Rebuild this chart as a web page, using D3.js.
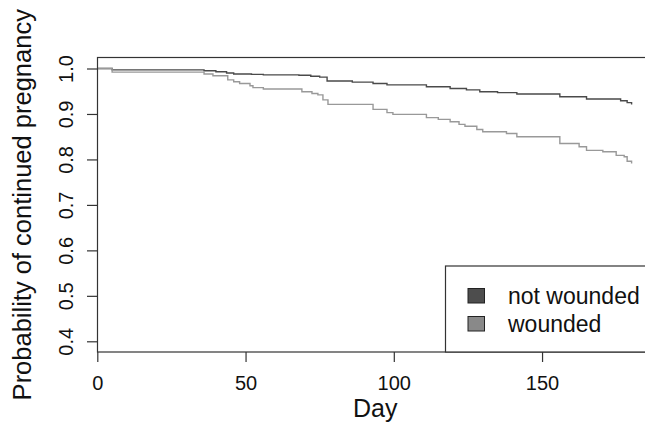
<!DOCTYPE html>
<html>
<head>
<meta charset="utf-8">
<script src="https://cdn.jsdelivr.net/npm/d3@7/dist/d3.min.js"></script>
<style>
html,body{margin:0;padding:0;background:#fff;}
svg{display:block;}
text{font-family:"Liberation Sans",Arial,Helvetica,sans-serif;fill:#111;}
</style>
</head>
<body>
<svg id="chart" width="645" height="426"></svg>
<script>
// Kaplan-Meier step data: [day, probability]
const notWoundedTimes = [0, 5, 36, 40, 43.6, 46, 52, 56, 68, 72, 75, 77.5, 86, 93, 97.7, 111, 119, 124.5, 129, 135, 141.5, 156, 165, 176.5, 178.7, 180.2];
const notWoundedSurv  = [1.0, 0.997, 0.995, 0.993, 0.990, 0.988, 0.987, 0.986, 0.985, 0.983, 0.981, 0.9725, 0.970, 0.967, 0.964, 0.960, 0.956, 0.953, 0.949, 0.947, 0.944, 0.938, 0.933, 0.929, 0.925, 0.921];
const woundedTimes = [0, 5, 36, 39, 44, 46, 48, 51.5, 52.5, 56, 69, 72.4, 74.4, 76.1, 77.8, 93, 97.7, 99.7, 111, 115, 119, 122, 124, 128, 130, 138, 141.5, 156, 162.5, 165, 170.5, 175, 177.7, 178.7, 180.2];
const woundedSurv  = [1.0, 0.992, 0.988, 0.984, 0.975, 0.971, 0.967, 0.962, 0.958, 0.955, 0.949, 0.945, 0.942, 0.931, 0.921, 0.910, 0.903, 0.899, 0.892, 0.888, 0.883, 0.877, 0.873, 0.866, 0.861, 0.857, 0.850, 0.835, 0.828, 0.820, 0.817, 0.809, 0.806, 0.796, 0.791];
const groups = ["not wounded", "wounded"];
const xTicks = [0, 50, 100, 150];
const yTicks = [0.4, 0.5, 0.6, 0.7, 0.8, 0.9, 1.0];
const xTitle = "Day";
const yTitle = "Probability of continued pregnancy";

const svg = d3.select("#chart");
const box = {left: 97.5, right: 653, top: 57.5, bottom: 352};

const x = d3.scaleLinear().domain([0, (box.right - 97.3) / 2.965]).range([97.3, box.right]);
const y = d3.scaleLinear().domain([0.4, 1.0]).range([341.3, 68.5]);

const lineColors = ["#4a4a4a", "#999999"];
const fillColors = ["#4d4d4d", "#898989"];

const line = d3.line().x(d => x(d[0])).y(d => y(d[1])).curve(d3.curveStepAfter);

const series = [
  d3.zip(notWoundedTimes, notWoundedSurv),
  d3.zip(woundedTimes, woundedSurv)
];

svg.selectAll("path.km").data(series).join("path")
  .attr("class", "km")
  .attr("d", line)
  .attr("fill", "none")
  .attr("stroke", (d, i) => lineColors[i])
  .attr("stroke-width", 1.4);

// plot box
svg.append("rect")
  .attr("x", box.left).attr("y", box.top)
  .attr("width", box.right - box.left).attr("height", box.bottom - box.top)
  .attr("fill", "none").attr("stroke", "#333").attr("stroke-width", 1.2);

// x axis
const xAxis = d3.axisBottom(x).tickValues(xTicks).tickSize(10).tickPadding(0).tickFormat(d3.format("d"));
const gx = svg.append("g").attr("transform", `translate(0,${box.bottom})`).call(xAxis);
gx.select(".domain").remove();
gx.selectAll(".tick line").attr("stroke", "#333").attr("stroke-width", 1.2);
gx.selectAll(".tick text").attr("font-size", 20).attr("fill", "#111")
  .attr("y", 37.5).attr("dy", null).style("font-family", '"Liberation Sans", Arial, sans-serif');

// y axis
const yAxis = d3.axisLeft(y).tickValues(yTicks).tickSize(10.5).tickFormat(d3.format(".1f"));
const gy = svg.append("g").attr("transform", `translate(${box.left},0)`).call(yAxis);
gy.select(".domain").remove();
gy.selectAll(".tick line").attr("stroke", "#333").attr("stroke-width", 1.2);
gy.selectAll(".tick text")
  .attr("font-size", 20).attr("fill", "#111")
  .attr("x", null).attr("dy", null)
  .attr("text-anchor", "middle")
  .attr("transform", "translate(-25,0) rotate(-90)")
  .style("font-family", '"Liberation Sans", Arial, sans-serif');

// axis titles
svg.append("text")
  .attr("x", (box.left + box.right) / 2).attr("y", 417)
  .attr("text-anchor", "middle").attr("font-size", 25)
  .text(xTitle);
svg.append("text")
  .attr("transform", `translate(31,${(box.top + box.bottom) / 2}) rotate(-90)`)
  .attr("text-anchor", "middle").attr("font-size", 25.5)
  .text(yTitle);

// legend
const lg = svg.append("g");
lg.append("rect")
  .attr("x", 445.5).attr("y", 266).attr("width", 260).attr("height", box.bottom - 266)
  .attr("fill", "#fff").attr("stroke", "#333").attr("stroke-width", 1.2);
groups.forEach((g, i) => {
  lg.append("rect")
    .attr("x", 468).attr("y", 288.5 + i * 28).attr("width", 16.5).attr("height", 14.5)
    .attr("fill", fillColors[i]).attr("stroke", "#222").attr("stroke-width", 1);
  lg.append("text")
    .attr("x", 508).attr("y", 304 + i * 28)
    .attr("font-size", 23).text(g);
});
</script>
</body>
</html>
